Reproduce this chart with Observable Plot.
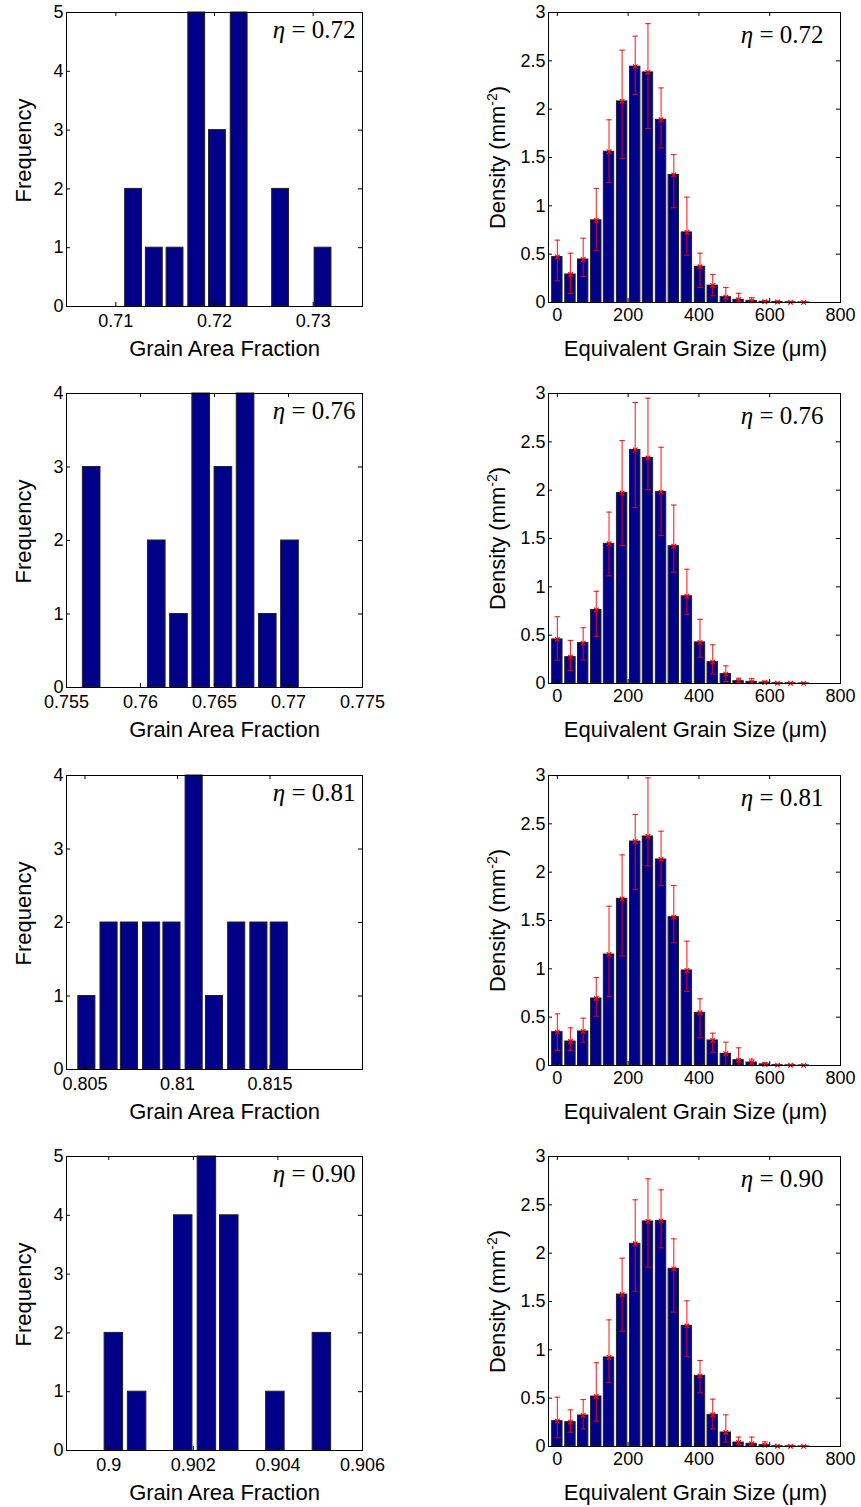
<!DOCTYPE html>
<html><head><meta charset="utf-8">
<script src="https://cdn.jsdelivr.net/npm/d3@7"></script>
<script src="https://cdn.jsdelivr.net/npm/@observablehq/plot@0.6"></script>
<style>
body{margin:0;background:#fff;}
#root{position:relative;width:861px;height:1507px;background:#fff;overflow:hidden}
#root svg{position:absolute;overflow:visible}
</style></head><body><div id="root"></div>
<script>
// ---- data ----
const etaLabels = ["0.72", "0.76", "0.81", "0.90"];

const fracCenters72 = [0.7118, 0.7139, 0.7160, 0.7182, 0.7203, 0.7225, 0.7246, 0.7267, 0.7288, 0.7310];
const fracCounts72  = [2, 1, 1, 5, 3, 5, 0, 2, 0, 1];
const fracCenters76 = [0.7567, 0.7582, 0.7596, 0.7611, 0.7626, 0.7641, 0.7656, 0.7671, 0.7686, 0.7701];
const fracCounts76  = [3, 0, 0, 2, 1, 4, 3, 4, 1, 2];
const fracCenters81 = [0.8051, 0.8063, 0.8074, 0.8086, 0.8097, 0.8109, 0.8120, 0.8132, 0.8144, 0.8155];
const fracCounts81  = [1, 2, 2, 2, 2, 4, 1, 2, 2, 2];
const fracCenters90 = [0.90012, 0.90067, 0.90122, 0.90176, 0.90232, 0.90285, 0.9034, 0.90394, 0.9045, 0.90504];
const fracCounts90  = [2, 1, 0, 4, 5, 4, 0, 1, 0, 2];

const fracDomains = [[0.705, 0.735], [0.755, 0.775], [0.804, 0.82], [0.899, 0.906]];
const fracTicks = [[0.71, 0.72, 0.73], [0.755, 0.76, 0.765, 0.77, 0.775], [0.805, 0.81, 0.815], [0.9, 0.902, 0.904, 0.906]];
const freqTicks = [[0, 1, 2, 3, 4, 5], [0, 1, 2, 3, 4], [0, 1, 2, 3, 4], [0, 1, 2, 3, 4, 5]];

const sizeCenters = [0, 37, 73, 110, 146, 183, 220, 256, 293, 329, 366, 403, 439, 476, 512, 549, 586, 622, 659, 696];
const sizeTicks = [0, 200, 400, 600, 800];
const densTicks = [0, 0.5, 1, 1.5, 2, 2.5, 3];

const dens72 = [0.47, 0.29, 0.445, 0.85, 1.56, 2.08, 2.44, 2.38, 1.89, 1.32, 0.725, 0.37, 0.175, 0.055, 0.028, 0.017, 0.008, 0.005, 0.002, 0.001];
const hi72   = [0.645, 0.51, 0.665, 1.18, 1.89, 2.61, 2.755, 2.885, 2.22, 1.53, 1.09, 0.51, 0.29, 0.155, 0.095, 0.05, 0.02, 0.015, 0.005, 0.003];
const lo72   = [0.225, 0.095, 0.27, 0.535, 1.24, 1.49, 2.15, 1.8, 1.6, 0.98, 0.49, 0.155, 0.07, 0, 0, 0, 0, 0, 0, 0];

const dens76 = [0.456, 0.273, 0.418, 0.76, 1.445, 1.97, 2.416, 2.333, 1.98, 1.42, 0.902, 0.425, 0.221, 0.097, 0.024, 0.017, 0.01, 0.003, 0.002, 0.001];
const hi76   = [0.691, 0.446, 0.577, 0.954, 1.773, 2.513, 2.907, 2.952, 2.444, 1.846, 1.182, 0.664, 0.401, 0.183, 0.055, 0.052, 0.024, 0.008, 0.005, 0.003];
const lo76   = [0.242, 0.135, 0.242, 0.487, 1.113, 1.428, 1.822, 2.005, 1.531, 1.151, 0.716, 0.273, 0.097, 0.02, 0, 0, 0, 0, 0, 0];

const dens81 = [0.345, 0.248, 0.352, 0.693, 1.148, 1.724, 2.317, 2.369, 2.131, 1.534, 0.983, 0.545, 0.259, 0.121, 0.055, 0.031, 0.012, 0.004, 0.002, 0.001];
const hi81   = [0.534, 0.39, 0.49, 0.91, 1.648, 2.179, 2.597, 2.976, 2.424, 1.862, 1.286, 0.69, 0.334, 0.241, 0.183, 0.066, 0.031, 0.01, 0.005, 0.003];
const lo81   = [0.155, 0.155, 0.241, 0.51, 0.714, 1.134, 1.821, 2.066, 1.862, 1.269, 0.766, 0.286, 0.138, 0, 0, 0, 0, 0, 0, 0];

const dens90 = [0.262, 0.252, 0.321, 0.517, 0.921, 1.572, 2.097, 2.328, 2.334, 1.838, 1.248, 0.731, 0.328, 0.145, 0.041, 0.028, 0.014, 0.003, 0.002, 0.001];
const hi90   = [0.51, 0.379, 0.486, 0.866, 1.31, 1.948, 2.552, 2.769, 2.655, 2.148, 1.507, 0.89, 0.49, 0.328, 0.097, 0.097, 0.048, 0.01, 0.005, 0.003];
const lo90   = [0.09, 0.148, 0.183, 0.262, 0.659, 1.193, 1.607, 1.855, 2.055, 1.39, 0.928, 0.555, 0.183, 0.045, 0, 0, 0, 0, 0, 0];

const fracCenters = [fracCenters72, fracCenters76, fracCenters81, fracCenters90];
const fracCounts = [fracCounts72, fracCounts76, fracCounts81, fracCounts90];
const densSeries = [dens72, dens76, dens81, dens90];
const hiSeries = [hi72, hi76, hi81, hi90];
const loSeries = [lo72, lo76, lo81, lo90];

// ---- styling / layout ----
const NAVY = "#000088";
const rowTops = [0, 381, 763, 1144];
const SANS = "'Liberation Sans', Arial, Helvetica, sans-serif";
const SERIF = "'Liberation Serif', 'Times New Roman', serif";
const root = document.getElementById("root");
const SVGNS = "http://www.w3.org/2000/svg";

const capSymbol = {
  draw(ctx, size) { const h = Math.sqrt(size / Math.PI); ctx.moveTo(-h, 0); ctx.lineTo(h, 0); }
};

function innerTicks(xt, yt, W, H, len) {
  return [
    Plot.ruleX(xt, {x: d => d, insetTop: H - len, stroke: "#000", strokeWidth: 1}),
    Plot.ruleX(xt, {x: d => d, insetBottom: H - len, stroke: "#000", strokeWidth: 1}),
    Plot.ruleY(yt, {y: d => d, insetRight: W - len, stroke: "#000", strokeWidth: 1}),
    Plot.ruleY(yt, {y: d => d, insetLeft: W - len, stroke: "#000", strokeWidth: 1})
  ];
}

function fixTexts(svg) {
  svg.querySelectorAll('g[aria-label*="axis"]').forEach(g => {
    g.style.fontSize = "18px";
    g.style.fontFamily = SANS;
    g.querySelectorAll("text").forEach(t => { t.style.fontSize = "18px"; });
  });
  svg.querySelectorAll("text").forEach(t => {
    const s = t.textContent;
    if (s.startsWith("η")) {
      t.textContent = "";
      const a = document.createElementNS(SVGNS, "tspan");
      a.setAttribute("font-style", "italic");
      a.textContent = "η";
      t.append(a, s.slice(1));
    } else if (s === "Density (mm-2)") {
      t.textContent = "Density (mm";
      const sup = document.createElementNS(SVGNS, "tspan");
      sup.setAttribute("dy", "-8");
      sup.setAttribute("font-size", "14");
      sup.textContent = "-2";
      const close = document.createElementNS(SVGNS, "tspan");
      close.setAttribute("dy", "8");
      close.textContent = ")";
      t.append(sup, close);
    }
  });
}

for (let i = 0; i < 4; i++) {
  // ---- left: grain area fraction histogram ----
  {
    const W = 296, H = 294;
    const c = fracCenters[i];
    const bw = (c[c.length - 1] - c[0]) / (c.length - 1) * 0.8;
    const rows = c.map((x, k) => ({x, n: fracCounts[i][k]}));
    const ymax = freqTicks[i][freqTicks[i].length - 1];
    const svg = Plot.plot({
      width: 430, height: 381,
      marginLeft: 66, marginRight: 68, marginTop: 12, marginBottom: 75,
      style: {fontFamily: SANS, fontSize: "18px", background: "transparent", color: "#000", overflow: "visible"},
      x: {domain: fracDomains[i], ticks: fracTicks[i], tickFormat: d => String(d), tickSize: 0, tickPadding: 8, label: null},
      y: {domain: [0, ymax], ticks: freqTicks[i], tickFormat: d => String(d), tickSize: 0, tickPadding: 3, label: null},
      marks: [
        Plot.rectY(rows.filter(d => d.n > 0), {x1: d => d.x - bw / 2, x2: d => d.x + bw / 2, y: "n", fill: NAVY, stroke: "#222", strokeWidth: 1}),
        ...innerTicks(fracTicks[i], freqTicks[i], W, H, 4),
        Plot.frame({stroke: "#000", strokeWidth: 1}),
        Plot.text(["Frequency"], {frameAnchor: "left", textAnchor: "middle", lineAnchor: "middle", dx: -43, dy: -9, rotate: -90, fontSize: 22, fontFamily: SANS}),
        Plot.text(["Grain Area Fraction"], {frameAnchor: "bottom", textAnchor: "middle", lineAnchor: "middle", dx: 10, dy: 42, fontSize: 22, fontFamily: SANS}),
        Plot.text(["η = " + etaLabels[i]], {frameAnchor: "top-right", textAnchor: "end", lineAnchor: "middle", dx: -7, dy: 17, fontSize: 25, fontFamily: SERIF})
      ]
    });
    fixTexts(svg);
    svg.style.left = "0px";
    svg.style.top = rowTops[i] + "px";
    root.appendChild(svg);
  }
  // ---- right: equivalent grain size density ----
  {
    const W = 292, H = 290;
    const bw = (sizeCenters[sizeCenters.length - 1] - sizeCenters[0]) / (sizeCenters.length - 1) * 0.8;
    const rows = sizeCenters.map((x, k) => ({x, m: densSeries[i][k], hi: hiSeries[i][k], lo: loSeries[i][k]}));
    const svg = Plot.plot({
      width: 431, height: 381,
      marginLeft: 118, marginRight: 21, marginTop: 12, marginBottom: 79,
      style: {fontFamily: SANS, fontSize: "18px", background: "transparent", color: "#000", overflow: "visible"},
      x: {domain: [-25, 800], ticks: sizeTicks, tickFormat: d => String(d), tickSize: 0, tickPadding: 6, label: null},
      y: {domain: [0, 3], ticks: densTicks, tickFormat: d => String(d), tickSize: 0, tickPadding: 3, label: null},
      marks: [
        Plot.rectY(rows, {x1: d => d.x - bw / 2, x2: d => d.x + bw / 2, y: "m", fill: NAVY, stroke: "#222", strokeWidth: 1}),
        Plot.ruleX(rows, {x: "x", y1: "lo", y2: "hi", stroke: "#ff0000", strokeWidth: 1.1, strokeOpacity: 0.85}),
        Plot.dot(rows, {x: "x", y: "hi", symbol: capSymbol, r: 2.8, fill: "none", stroke: "#ff0000", strokeWidth: 1.1, strokeOpacity: 0.85}),
        Plot.dot(rows, {x: "x", y: "lo", symbol: capSymbol, r: 2.8, fill: "none", stroke: "#ff0000", strokeWidth: 1.1, strokeOpacity: 0.85}),
        Plot.dot(rows, {x: "x", y: "m", symbol: "times", r: 2.2, fill: "none", stroke: "#ff0000", strokeWidth: 1.2}),
        ...innerTicks(sizeTicks, densTicks, W, H, 4),
        Plot.frame({stroke: "#000", strokeWidth: 1}),
        Plot.text(["Density (mm-2)"], {frameAnchor: "left", textAnchor: "middle", lineAnchor: "middle", dx: -51, dy: 0, rotate: -90, fontSize: 22, fontFamily: SANS}),
        Plot.text(["Equivalent Grain Size (μm)"], {frameAnchor: "bottom", textAnchor: "middle", lineAnchor: "middle", dx: 1, dy: 46, fontSize: 22, fontFamily: SANS}),
        Plot.text(["η = " + etaLabels[i]], {frameAnchor: "top-right", textAnchor: "end", lineAnchor: "middle", dx: -17, dy: 22, fontSize: 25, fontFamily: SERIF})
      ]
    });
    fixTexts(svg);
    svg.style.left = "430px";
    svg.style.top = rowTops[i] + "px";
    root.appendChild(svg);
  }
}
</script></body></html>
